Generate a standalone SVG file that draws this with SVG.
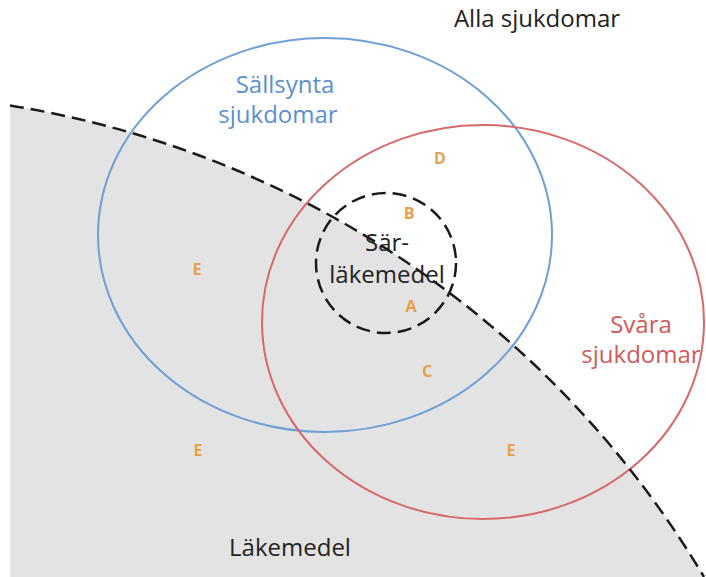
<svg xmlns="http://www.w3.org/2000/svg" width="706" height="577" viewBox="0 0 706 577">
<style>
.lbl{font-family:"Open Sans","Liberation Sans",sans-serif;text-anchor:middle;font-size:24px}
.let{font-family:"Open Sans","Liberation Sans",sans-serif;font-size:16px;font-weight:bold;fill:#e8a04a;text-anchor:middle}
.dash{fill:none;stroke:#1a1a1a;stroke-width:2.5;stroke-dasharray:14 7}
</style>
<rect width="706" height="577" fill="#ffffff"/>
<g id="lakemedel-region">
<path d="M10,105.5 A990,990 0 0 1 704,577 L10,577 Z" fill="#e3e3e3"/>
</g>
<g id="sallsynta">
<ellipse cx="325" cy="235" rx="227" ry="197" fill="none" stroke="#6e9fd6" stroke-width="2"/>
<text class="lbl" x="285" y="93" fill="#5b8fd0">Sällsynta</text>
<text class="lbl" x="278" y="123" fill="#5b8fd0">sjukdomar</text>
</g>
<g id="svara">
<ellipse cx="483" cy="322" rx="221" ry="197" fill="none" stroke="#d8686a" stroke-width="2"/>
<text class="lbl" x="641" y="333" fill="#d05a5a">Svåra</text>
<text class="lbl" x="641" y="363" fill="#d05a5a">sjukdomar</text>
</g>
<g id="connectors">
<path class="dash" d="M10,105.5 A990,990 0 0 1 704,577"/>
</g>
<g id="sarlakemedel">
<circle class="dash" cx="386" cy="263" r="70" stroke-width="2" stroke-dasharray="6 3.5"/>
<text class="lbl" x="387" y="251" fill="#222">Sär-</text>
<text class="lbl" x="387" y="283" fill="#222">läkemedel</text>
</g>
<g id="alla">
<text class="lbl" x="537" y="27" fill="#222">Alla sjukdomar</text>
</g>
<g id="lakemedel">
<text class="lbl" x="290" y="556" fill="#222">Läkemedel</text>
</g>
<g id="letters">
<text class="let" x="440" y="164">D</text>
<text class="let" x="409" y="219" fill="#f0b878">B</text>
<text class="let" x="197" y="275">E</text>
<text class="let" x="411" y="312">A</text>
<text class="let" x="427" y="377">C</text>
<text class="let" x="198" y="456">E</text>
<text class="let" x="511" y="456">E</text>
</g>
</svg>
